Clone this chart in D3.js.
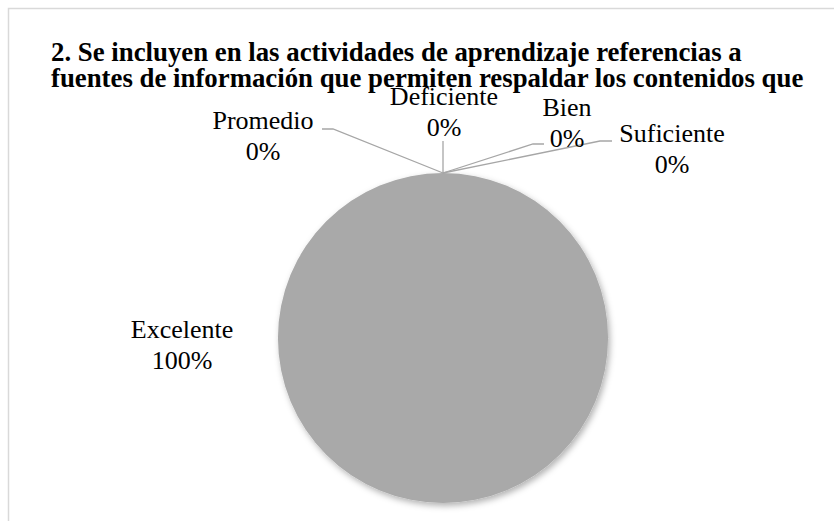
<!DOCTYPE html>
<html>
<head>
<meta charset="utf-8">
<script src="https://cdn.jsdelivr.net/npm/d3@7"></script>
<style>
  body { margin: 0; background: #fff; }
  svg { display: block; }
  text, tspan { font-family: "Liberation Serif", "Times New Roman", serif; fill: #000; }
</style>
</head>
<body>
<svg id="chart"></svg>
<script>
// chart data
var categories = ['Deficiente', 'Bien', 'Suficiente', 'Excelente', 'Promedio'];
var values = [0, 0, 0, 100, 0];
var titleLines = [
  '2. Se incluyen en las actividades de aprendizaje referencias a',
  'fuentes de información que permiten respaldar los contenidos que'
];

var svg_width = 834,
  svg_height = 521,
  cx = 443,
  cy = 338,
  radius = 165,
  label_size = 26,
  label_gap = 31;

// label layout: where each label box sits and where its leader line bends
var label_layout = {
  Deficiente: { x: 444, y: 105, bend: [443, 141], end: [443, 141] },
  Bien: { x: 567, y: 116, bend: [533, 144], end: [544, 144] },
  Suficiente: { x: 672, y: 142, bend: [600, 141], end: [612, 141] },
  Promedio: { x: 263, y: 129, bend: [333, 129], end: [322, 129] },
  Excelente: { x: 182, y: 338 }
};

var svg = d3.select('#chart')
  .attr('width', svg_width)
  .attr('height', svg_height);

// chart frame
svg.append('rect')
  .attr('x', 8.5)
  .attr('y', 8.5)
  .attr('width', 840)
  .attr('height', 540)
  .attr('fill', '#fff')
  .attr('stroke', '#d9d9d9')
  .attr('stroke-width', 1.5);

var defs = svg.append('defs');
var filter = defs.append('filter')
  .attr('id', 'shadow')
  .attr('x', '-20%').attr('y', '-20%')
  .attr('width', '140%').attr('height', '140%');
filter.append('feDropShadow')
  .attr('dx', 2)
  .attr('dy', 3)
  .attr('stdDeviation', 3)
  .attr('flood-color', '#000')
  .attr('flood-opacity', 0.3);

// title
svg.append('text')
  .attr('font-size', 26.8)
  .attr('font-weight', 'bold')
  .selectAll('tspan')
  .data(titleLines)
  .enter()
  .append('tspan')
  .attr('x', 51)
  .attr('y', function(d, i) { return 61 + i * 26; })
  .text(function(d) { return d; });

var data = categories.map(function(c, i) { return { name: c, value: values[i] }; });

var pie = d3.pie()
  .sort(null)
  .value(function(d) { return d.value; });

var arc = d3.arc()
  .innerRadius(0)
  .outerRadius(radius);

var arcs = pie(data);

var g = svg.append('g')
  .attr('transform', 'translate(' + cx + ',' + cy + ')');

g.selectAll('path.slice')
  .data(arcs.filter(function(d) { return d.value > 0; }))
  .enter()
  .append('path')
  .attr('class', 'slice')
  .attr('d', arc)
  .attr('fill', '#a9a9a9')
  .attr('filter', 'url(#shadow)');

// leader lines for the zero slices
function edgePoint(d) {
  var a = d.startAngle;
  return [cx + radius * Math.sin(a), cy - radius * Math.cos(a)];
}

svg.selectAll('polyline.leader')
  .data(arcs.filter(function(d) { return label_layout[d.data.name].bend; }))
  .enter()
  .append('polyline')
  .attr('class', 'leader')
  .attr('fill', 'none')
  .attr('stroke', '#a6a6a6')
  .attr('stroke-width', 1.3)
  .attr('points', function(d) {
    var l = label_layout[d.data.name];
    var p = d.value > 0 ? [cx, cy - radius] : edgePoint(d);
    return [p, l.bend, l.end].map(function(q) { return q.join(','); }).join(' ');
  });

// data labels
var labels = svg.selectAll('text.label')
  .data(arcs)
  .enter()
  .append('text')
  .attr('class', 'label')
  .attr('font-size', label_size)
  .attr('text-anchor', 'middle');

labels.append('tspan')
  .attr('x', function(d) { return label_layout[d.data.name].x; })
  .attr('y', function(d) { return label_layout[d.data.name].y; })
  .text(function(d) { return d.data.name; });

labels.append('tspan')
  .attr('x', function(d) { return label_layout[d.data.name].x; })
  .attr('y', function(d) { return label_layout[d.data.name].y + label_gap; })
  .text(function(d) { return d3.format('.0%')(d.value / d3.sum(values)); });
</script>
</body>
</html>
